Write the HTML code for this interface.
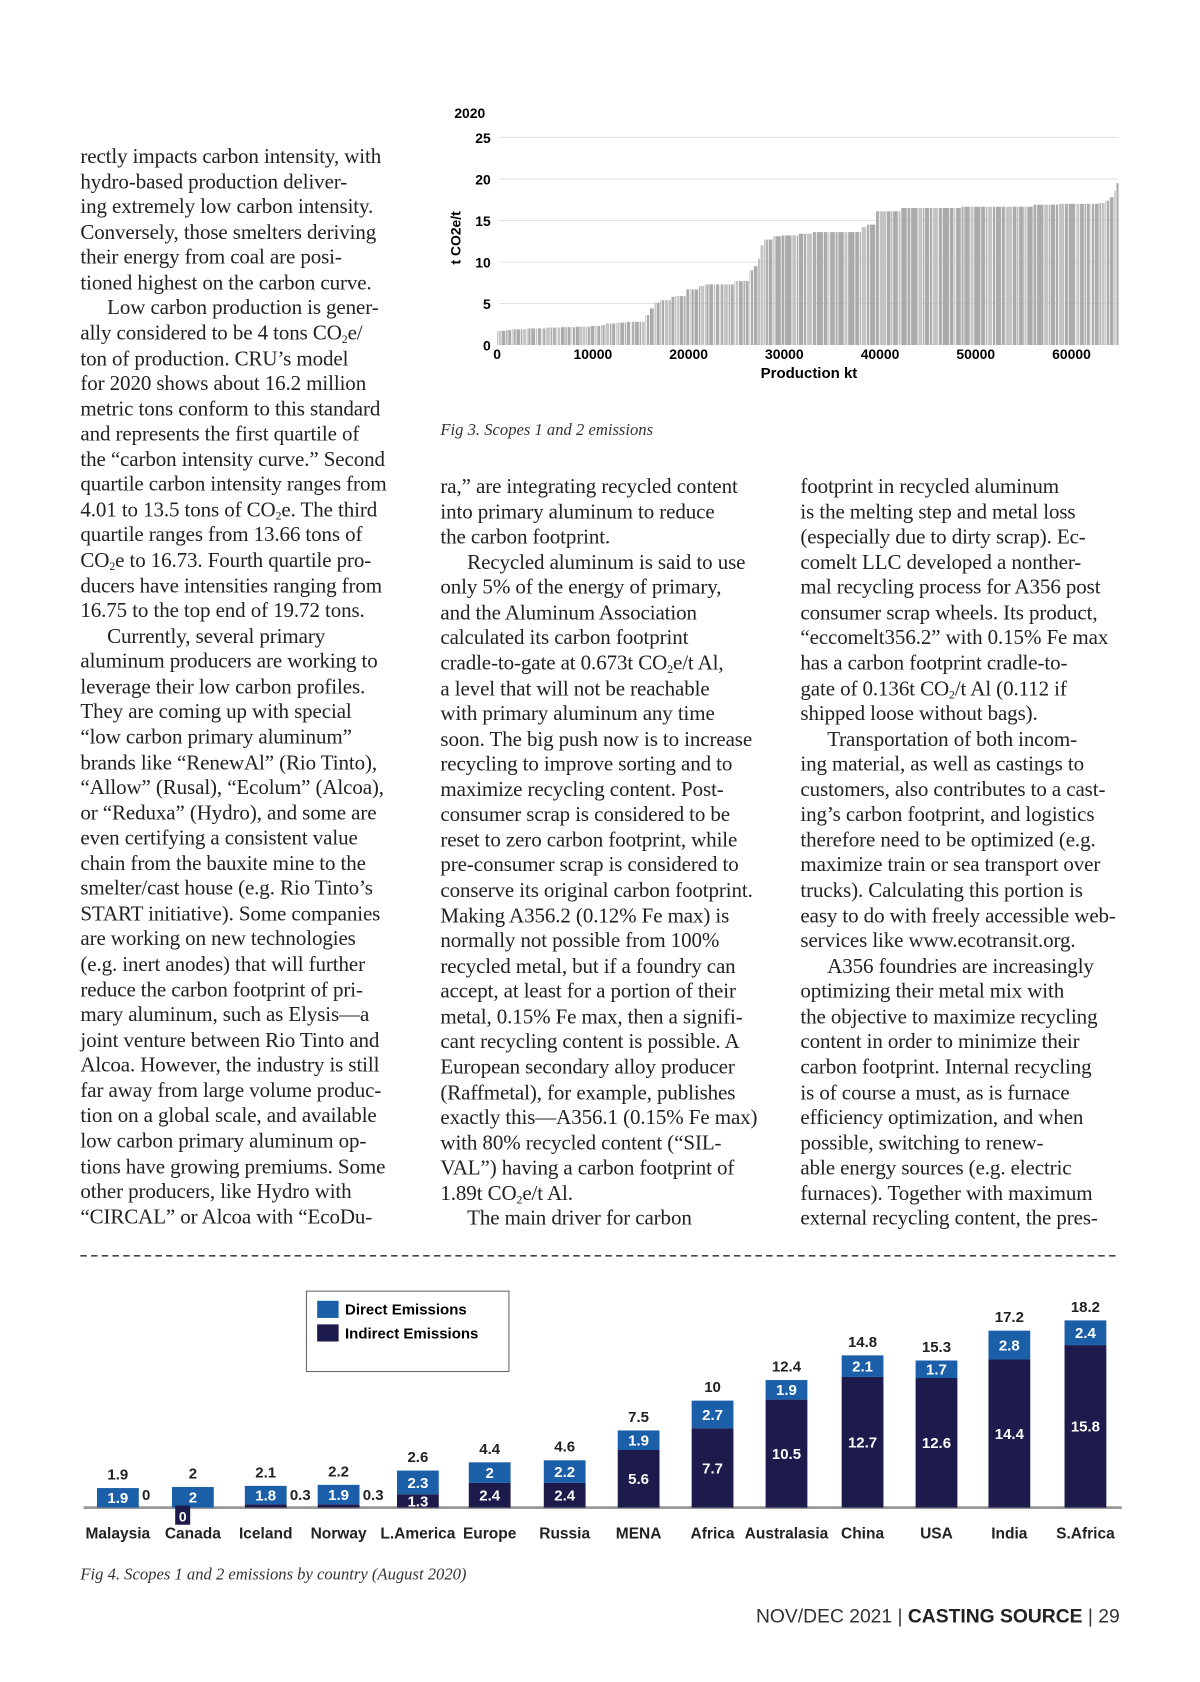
<!DOCTYPE html>
<html><head><meta charset="utf-8">
<style>
html,body{margin:0;padding:0;background:#fff;}
body{width:1200px;height:1678px;overflow:hidden;position:relative;}
#w{position:absolute;left:0;top:0;width:1130px;height:1570px;transform:scale(1.0715);transform-origin:0 0;}
.col{position:absolute;font-family:"Liberation Serif",serif;font-size:19.6px;line-height:23.57px;color:#222;white-space:nowrap;letter-spacing:-0.1px;}
.col sub{font-size:11px;line-height:0;vertical-align:-3px;}
.i{padding-left:25px;}
.cap{position:absolute;font-family:"Liberation Serif",serif;font-style:italic;font-size:15.5px;color:#333;}
svg text{font-family:"Liberation Sans Narrow","Liberation Sans",sans-serif;font-weight:bold;}
</style></head><body><div id="w">

<div class="col" style="left:75px;top:135px;">
rectly impacts carbon intensity, with<br>hydro-based production deliver-<br>ing extremely low carbon intensity.<br>Conversely, those smelters deriving<br>their energy from coal are posi-<br>tioned highest on the carbon curve.<br>
<span class="i">Low carbon production is gener-</span><br>ally considered to be 4 tons CO<sub>2</sub>e/<br>ton of production. CRU’s model<br>for 2020 shows about 16.2 million<br>metric tons conform to this standard<br>and represents the first quartile of<br>the “carbon intensity curve.” Second<br>quartile carbon intensity ranges from<br>4.01 to 13.5 tons of CO<sub>2</sub>e. The third<br>quartile ranges from 13.66 tons of<br>CO<sub>2</sub>e to 16.73. Fourth quartile pro-<br>ducers have intensities ranging from<br>16.75 to the top end of 19.72 tons.<br>
<span class="i">Currently, several primary</span><br>aluminum producers are working to<br>leverage their low carbon profiles.<br>They are coming up with special<br>“low carbon primary aluminum”<br>brands like “RenewAl” (Rio Tinto),<br>“Allow” (Rusal), “Ecolum” (Alcoa),<br>or “Reduxa” (Hydro), and some are<br>even certifying a consistent value<br>chain from the bauxite mine to the<br>smelter/cast house (e.g. Rio Tinto’s<br>START initiative). Some companies<br>are working on new technologies<br>(e.g. inert anodes) that will further<br>reduce the carbon footprint of pri-<br>mary aluminum, such as Elysis—a<br>joint venture between Rio Tinto and<br>Alcoa. However, the industry is still<br>far away from large volume produc-<br>tion on a global scale, and available<br>low carbon primary aluminum op-<br>tions have growing premiums. Some<br>other producers, like Hydro with<br>“CIRCAL” or Alcoa with “EcoDu-
</div>

<div class="col" style="left:411px;top:443px;">
ra,” are integrating recycled content<br>into primary aluminum to reduce<br>the carbon footprint.<br>
<span class="i">Recycled aluminum is said to use</span><br>only 5% of the energy of primary,<br>and the Aluminum Association<br>calculated its carbon footprint<br>cradle-to-gate at 0.673t CO<sub>2</sub>e/t Al,<br>a level that will not be reachable<br>with primary aluminum any time<br>soon. The big push now is to increase<br>recycling to improve sorting and to<br>maximize recycling content. Post-<br>consumer scrap is considered to be<br>reset to zero carbon footprint, while<br>pre-consumer scrap is considered to<br>conserve its original carbon footprint.<br>Making A356.2 (0.12% Fe max) is<br>normally not possible from 100%<br>recycled metal, but if a foundry can<br>accept, at least for a portion of their<br>metal, 0.15% Fe max, then a signifi-<br>cant recycling content is possible. A<br>European secondary alloy producer<br>(Raffmetal), for example, publishes<br>exactly this—A356.1 (0.15% Fe max)<br>with 80% recycled content (“SIL-<br>VAL”) having a carbon footprint of<br>1.89t CO<sub>2</sub>e/t Al.<br>
<span class="i">The main driver for carbon</span>
</div>

<div class="col" style="left:747px;top:443px;">
footprint in recycled aluminum<br>is the melting step and metal loss<br>(especially due to dirty scrap). Ec-<br>comelt LLC developed a nonther-<br>mal recycling process for A356 post<br>consumer scrap wheels. Its product,<br>“eccomelt356.2” with 0.15% Fe max<br>has a carbon footprint cradle-to-<br>gate of 0.136t CO<sub>2</sub>/t Al (0.112 if<br>shipped loose without bags).<br>
<span class="i">Transportation of both incom-</span><br>ing material, as well as castings to<br>customers, also contributes to a cast-<br>ing’s carbon footprint, and logistics<br>therefore need to be optimized (e.g.<br>maximize train or sea transport over<br>trucks). Calculating this portion is<br>easy to do with freely accessible web-<br>services like www.ecotransit.org.<br>
<span class="i">A356 foundries are increasingly</span><br>optimizing their metal mix with<br>the objective to maximize recycling<br>content in order to minimize their<br>carbon footprint. Internal recycling<br>is of course a must, as is furnace<br>efficiency optimization, and when<br>possible, switching to renew-<br>able energy sources (e.g. electric<br>furnaces). Together with maximum<br>external recycling content, the pres-
</div>

<div class="cap" style="left:411px;top:393px;">Fig 3. Scopes 1 and 2 emissions</div>
<div class="cap" style="left:75px;top:1461px;">Fig 4. Scopes 1 and 2 emissions by country (August 2020)</div>

<svg id="f3" style="position:absolute;left:0;top:0" width="1130" height="370"></svg>
<svg id="f4" style="position:absolute;left:0;top:1160" width="1130" height="300"></svg>

<div style="position:absolute;right:85px;top:1498px;font-family:'Liberation Sans',sans-serif;font-size:18px;color:#333;white-space:nowrap;">NOV/DEC 2021 | <b style="color:#222">CASTING SOURCE</b> | 29</div>

</div>
<script>
var NS="http://www.w3.org/2000/svg";
function el(p,t,a,txt){var e=document.createElementNS(NS,t);for(var k in a)e.setAttribute(k,a[k]);if(txt!==undefined)e.textContent=txt;p.appendChild(e);return e;}
var s=document.getElementById('f3');
var X=function(k){return 464+k*0.008933;},Y=function(v){return 322-v*7.75;};
el(s,'text',{x:424,y:110,'font-size':13},'2020');
for(var v=0;v<=25;v+=5){ if(v>0) el(s,'line',{x1:466,x2:1043,y1:Y(v),y2:Y(v),stroke:'#e2e2e2','stroke-width':1});
 el(s,'text',{x:458,y:Y(v)+5,'font-size':13,'text-anchor':'end'},String(v));}
el(s,'text',{x:0,y:0,'font-size':13,transform:'translate(430,222) rotate(-90)','text-anchor':'middle'},'t CO2e/t');
for(var k=0;k<=60000;k+=10000) el(s,'text',{x:X(k),y:335,'font-size':13,'text-anchor':'middle'},String(k));
el(s,'text',{x:755,y:353,'font-size':14,'text-anchor':'middle'},'Production kt');
var steps=[[0,1.7],[600,1.8],[1500,1.9],[3000,2.0],[5000,2.1],[6500,2.15],[8000,2.2],[9500,2.3],[10500,2.4],[11300,2.6],[12500,2.7],[13500,2.8],[15500,3.6],[15900,4.4],[16300,5.1],[17000,5.4],[18000,5.8],[18500,5.9],[19600,6.7],[21000,7.1],[21500,7.3],[24500,7.7],[26000,9.0],[26600,9.5],[27000,10.4],[27500,12.0],[27800,12.7],[28500,13.1],[29500,13.2],[31500,13.4],[33000,13.6],[38000,14.2],[38600,14.5],[39000,15.7],[39500,16.1],[42000,16.5],[48500,16.65],[56000,16.9],[58500,17.0],[62500,17.1],[63200,17.4],[63800,17.8],[64200,18.6],[64700,19.5]];
function hAt(k){var h=steps[0][1];for(var i=0;i<steps.length;i++)if(steps[i][0]<=k)h=steps[i][1];return h;}
var k=0,i=0;
while(k<65000){var w=150+((i*37)%5)*80;if(k>29000&&k<60000)w=200+((i*53)%7)*90;var h=hAt(k);
 var x1=X(k),x2=X(Math.min(k+w,65000));
 el(s,'rect',{x:x1,y:Y(h),width:Math.max(0.6,x2-x1-0.7),height:322-Y(h),fill:(i%4==1)?'#c4c4c4':'#ababab'});
 k+=w;i++;}
var f=document.getElementById('f4');var B=247,S=9.6;
el(f,'rect',{x:286,y:45,width:189,height:75,fill:'#fff',stroke:'#666','stroke-width':1});
el(f,'rect',{x:296,y:54,width:20,height:16,fill:'#1b5fa9'});
el(f,'rect',{x:296,y:76,width:20,height:16,fill:'#1d1a4c'});
el(f,'text',{x:322,y:67,'font-size':14},'Direct Emissions');
el(f,'text',{x:322,y:89,'font-size':14},'Indirect Emissions');
el(f,'line',{x1:78,x2:1047,y1:B,y2:B,stroke:'#999','stroke-width':2.5});
var d=[['Malaysia',110,1.9,0,'1.9'],['Canada',180,2,0,'2'],['Iceland',248,1.8,0.3,'2.1'],['Norway',316,1.9,0.3,'2.2'],['L.America',390,2.3,1.3,'2.6'],['Europe',457,2,2.4,'4.4'],['Russia',527,2.2,2.4,'4.6'],['MENA',596,1.9,5.6,'7.5'],['Africa',665,2.7,7.7,'10'],['Australasia',734,1.9,10.5,'12.4'],['China',805,2.1,12.7,'14.8'],['USA',874,1.7,12.6,'15.3'],['India',942,2.8,14.4,'17.2'],['S.Africa',1013,2.4,15.8,'18.2']];
d.forEach(function(r){var cx=r[1],bw=39,x=cx-bw/2;var hi=r[3]*S,hd=r[2]*S;
 var small=r[3]<1;
 var hiDraw=small?(r[3]>0?3:0):hi;
 if(hiDraw>0) el(f,'rect',{x:x,y:B-hiDraw,width:bw,height:hiDraw,fill:'#1d1a4c'});
 el(f,'rect',{x:x,y:B-hiDraw-hd,width:bw,height:hd,fill:'#1b5fa9'});
 var top=B-hiDraw-hd;
 el(f,'text',{x:cx,y:top-8,'font-size':14,'text-anchor':'middle',fill:'#222'},r[4]);
 el(f,'text',{x:cx,y:top+hd/2+5,'font-size':14,'text-anchor':'middle',fill:'#fff'},String(r[2]));
 if(!small) el(f,'text',{x:cx,y:B-hi/2+5,'font-size':14,'text-anchor':'middle',fill:'#fff'},String(r[3]));
 else if(r[0]=='Canada'){el(f,'rect',{x:x+3,y:B-2,width:14,height:18,fill:'#1d1a4c'});el(f,'text',{x:x+10,y:B+13,'font-size':13,'text-anchor':'middle',fill:'#fff'},'0');}
 else el(f,'text',{x:x+bw+3,y:B-7,'font-size':14,fill:'#222'},String(r[3]));
 el(f,'text',{x:cx,y:B+29,'font-size':14.5,'text-anchor':'middle',fill:'#222'},r[0]);
});
el(f,'line',{x1:75,x2:1045,y1:12,y2:12,stroke:'#444','stroke-width':1.5,'stroke-dasharray':'6,4'});
</script>
</body></html>
